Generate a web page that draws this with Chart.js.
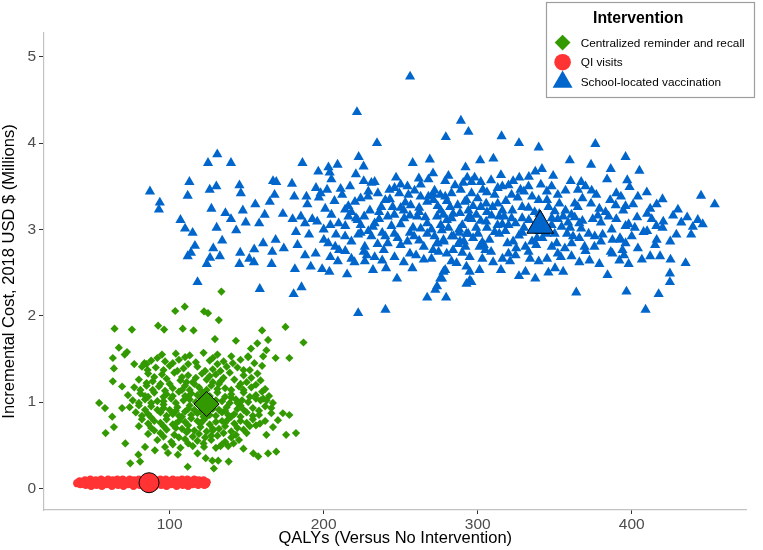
<!DOCTYPE html>
<html><head><meta charset="utf-8">
<script src="https://cdn.jsdelivr.net/npm/chart.js@4.4.1/dist/chart.umd.min.js"></script>
<style>html,body{margin:0;padding:0;background:#fff;}canvas{display:block;}</style>
</head><body>
<canvas id="c" width="763" height="550"></canvas>
<script>
const seriesNames = ['Centralized reminder and recall', 'QI visits', 'School-located vaccination'];
const seriesColors = ['#339900', '#FF3333', '#0066CC'];
const xTicks = [100, 200, 300, 400];
const yTicks = [0, 1, 2, 3, 4, 5];
const xTitle = 'QALYs (Versus No Intervention)';
const yTitle = 'Incremental Cost, 2018 USD $ (Millions)';
const legendTitle = 'Intervention';

// QI visits (QALYs, cost in millions)
const qiVisits = [[40,0.06],[41.5,0.08],[42,0.05],[43.5,0.07],[45,0.09],[45.5,0.04],[47,0.06],[48.5,0.10],[49,0.03],[50.5,0.07],[52,0.09],[52.5,0.04],[54,0.06],[55.5,0.10],[56,0.03],[57.5,0.08],[59,0.05],[60,0.10],[61,0.07],[62.5,0.03],[63,0.09],[64.5,0.06],[66,0.10],[66.5,0.04],[68,0.07],[69.5,0.10],[70,0.03],[71.5,0.08],[73,0.05],[74,0.10],[75,0.06],[76.5,0.03],[77,0.09],[78.5,0.07],[80,0.10],[80.5,0.04],[82,0.06],[83.5,0.10],[84,0.03],[85.5,0.08],[87,0.05],[88,0.10],[89,0.07],[90.5,0.03],[91,0.09],[92.5,0.06],[94,0.10],[94.5,0.04],[96,0.07],[97.5,0.10],[98,0.03],[99.5,0.08],[101,0.05],[102,0.10],[103,0.06],[104.5,0.03],[105,0.09],[106.5,0.07],[108,0.10],[108.5,0.04],[110,0.06],[111.5,0.10],[112,0.03],[113.5,0.08],[115,0.05],[116,0.10],[117,0.07],[118.5,0.04],[119,0.09],[120.5,0.06],[122,0.09],[122.5,0.04],[124,0.07],
[41,0.065],[44,0.055],[47.5,0.075],[51,0.06],[54.5,0.08],[58,0.065],[61.5,0.05],[65,0.075],[68.5,0.055],[72,0.07],[75.5,0.085],[79,0.06],[82.5,0.075],[86,0.055],[89.5,0.08],[93,0.065],[96.5,0.05],[100,0.075],[103.5,0.06],[107,0.08],[110.5,0.055],[114,0.07],[117.5,0.085],[121,0.06],[123.5,0.05]];

// Centralized reminder and recall
const reminderRecall = [[133.6,2.28],[103.6,2.055],[109.8,2.105],[122.3,2.05],[124.9,2.03],[131.9,1.95],[64.2,1.85],[75.5,1.84],[92.5,1.885],[96.4,1.84],[108.5,1.85],[115.5,1.83],[175.2,1.87],[160.0,1.83],[129.4,1.73],[143.0,1.71],[163.9,1.72],[156.9,1.68],[186.9,1.69],[152.8,1.62],[67.0,1.63],[72.3,1.58],[70.8,1.55],[63.1,1.51],[77.0,1.44],[63.8,1.39],[83.6,1.45],[85.7,1.37],[177.7,1.51],[168.8,1.51],[162.8,1.60],[160.7,1.53],[150.9,1.53],[63.1,1.24],[69.1,1.18],[72.9,1.08],[54.2,0.99],[58.0,0.93],[69.1,0.93],[62.7,0.83],[58.4,0.64],[63.8,0.71],[71.2,0.52],[74.4,0.29],[80.8,0.31],[79.7,0.39],[84.0,0.48],[90.4,0.44],[98.9,0.41],[105.3,0.39],[111.7,0.25],[123.4,0.35],[127.7,0.32],[128.7,0.23],[131.5,0.32],[138.3,0.31],[118.1,0.405],[122.3,0.48],[133.0,0.49],[141.5,0.52],[147.9,0.46],[154.3,0.405],[157.5,0.37],[163.9,0.405],[169.2,0.425],[175.6,0.62],[182.0,0.64],[177.7,0.85],[173.5,0.87],[166.0,0.93],[160.7,1.04],[164.5,1.07],[170.3,0.79],[167.1,0.71],[158.6,0.75],[162.8,0.62],
[95,1.55],[104,1.56],[113,1.54],[122,1.57],[131,1.55],[140,1.53],
[88,1.48],[97,1.47],[106,1.49],[117,1.46],[126,1.48],[135,1.47],[146,1.49],[155,1.45],
[82,1.41],[91,1.40],[100,1.42],[109,1.39],[118,1.41],[128,1.38],[137,1.41],[144,1.40],[152,1.37],
[86,1.33],[95,1.32],[103,1.34],[112,1.31],[121,1.33],[130,1.32],[139,1.34],[148,1.31],[157,1.33],
[80,1.26],[89,1.24],[98,1.27],[107,1.25],[115,1.23],[124,1.26],[133,1.24],[142,1.26],[150,1.23],[159,1.25],
[77,1.17],[85,1.19],[93,1.18],[102,1.16],[110,1.19],[119,1.17],[127,1.19],[136,1.16],[145,1.18],[153,1.17],[162,1.15],
[81,1.10],[90,1.11],[98,1.09],[106,1.12],[114,1.10],[123,1.08],[131,1.11],[140,1.09],[148,1.11],[156,1.08],
[76,1.02],[84,1.03],[92,1.01],[101,1.04],[109,1.02],[117,1.00],[126,1.03],[134,1.01],[143,1.03],[151,1.00],[159,1.02],[167,0.99],
[74,0.94],[80,0.96],[88,0.95],[96,0.97],[105,0.94],[113,0.96],[121,0.93],[129,0.96],[137,0.94],[146,0.96],[154,0.93],[162,0.95],
[78,0.88],[86,0.86],[94,0.88],[102,0.86],[110,0.89],[118,0.87],[126,0.85],[134,0.88],[142,0.86],[150,0.88],[158,0.85],[166,0.87],
[82,0.80],[90,0.78],[98,0.80],[106,0.78],[114,0.81],[122,0.79],[130,0.77],[138,0.80],[146,0.78],[154,0.80],[162,0.78],
[80,0.72],[88,0.70],[96,0.72],[104,0.70],[112,0.73],[120,0.71],[128,0.69],[136,0.72],[144,0.70],[152,0.72],
[86,0.63],[94,0.64],[103,0.62],[111,0.65],[119,0.63],[127,0.61],[135,0.64],[143,0.62],[150,0.64],
[92,0.56],[101,0.54],[110,0.57],[118,0.55],[127,0.56],[136,0.54],[145,0.56],
[97,0.48],[107,0.47],[115,0.49],[130,0.47],[138,0.49],
[100,1.21],[108,1.14],[116,1.21],[124,1.14],[132,1.21],[140,1.14],[96,1.06],[104,0.99],[112,1.06],[120,1.05],[128,0.99],[136,1.06],[144,0.99],[100,0.91],[108,0.83],[116,0.91],[124,0.83],[132,0.91],[140,0.83],[104,0.75],[112,0.67],[120,0.75],[128,0.67],[136,0.76],[148,0.91],[92,0.91],[88,0.82],[84,1.07],[152,1.06],[156,0.73],
[92,1.51],[110,1.52],[128,1.51],[151,1.52],[85,1.44],[102,1.45],[112,1.44],[131,1.44],[141,1.45],[160,1.42],[96,1.37],[105,1.36],[123,1.36],[133,1.36],[148,1.37],[90,1.29],[108,1.29],[117,1.28],[126,1.30],[135,1.28],[153,1.28],[85,1.22],[94,1.21],[111,1.23],[128,1.23],[146,1.21],[156,1.20],[81,1.14],[89,1.14],[97,1.13],[113,1.14],[121,1.12],[131,1.15],[148,1.14],[160,1.12],[86,1.06],[102,1.07],[110,1.07],[118,1.08],[126,1.07],[140,1.05],[156,1.04],[80,0.99],[88,0.99],[96,1.01],[113,1.03],[122,1.00],[130,1.02],[139,0.99],[147,1.02],[163,1.02],[84,0.91],[96,0.93],[104,0.90],[112,0.92],[120,0.89],[128,0.92],[136,0.90],[144,0.92],[158,0.90],[82,0.84],[98,0.84],[106,0.84],[114,0.85],[122,0.83],[130,0.84],[138,0.85],[146,0.83],[154,0.84],[86,0.75],[94,0.76],[102,0.74],[110,0.77],[118,0.78],[126,0.74],[134,0.78],[142,0.75],[150,0.76],[90,0.67],[98,0.68],[108,0.69],[116,0.67],[124,0.66],[132,0.69],[140,0.66],[148,0.68],[96,0.60],[106,0.59],[115,0.60],[123,0.59],[131,0.61],[140,0.59],[102,0.51],[112,0.52],[122,0.52],[134,0.51]];

// School-located vaccination
const schoolVaccination = [[130.9,3.87],[124.9,3.77],[139.8,3.77],[112.8,3.55],[87.2,3.44],[93.6,3.31],[93.0,3.23],[111.7,3.39],[126.0,3.46],[130.3,3.50],[127.1,3.24],[136.2,3.19],[139.8,3.12],[107.0,3.11],[110.0,3.01],[114.9,2.96],[130.5,3.02],[134.1,2.87],[116.4,2.81],[113.8,2.73],[111.7,2.69],[128.3,2.78],[126.2,2.67],[124.1,2.60],[132.6,2.69],[118.1,2.39],
[256.1,4.77],[221.6,4.36],[289.1,4.26],[279.3,4.07],[294.0,4.13],[234.6,4.00],[186.2,3.77],[222.7,3.84],[209.0,3.75],[225.9,3.73],[257.8,3.77],[268.9,3.81],[292.1,3.72],[196.5,3.67],[203.1,3.72],[203.9,3.66],[220.9,3.64],[271.0,3.65],[293.2,3.60],[145.3,3.51],[146.2,3.42],[167.1,3.56],[169.2,3.55],[179.4,3.53],[195.0,3.48],[202.2,3.46],[217.1,3.50],[231.0,3.54],[233.1,3.55],[242.7,3.46],[254.4,3.50],[261.8,3.59],[278.9,3.56],[285.3,3.51],[290.6,3.54],[296.0,3.55],[147.5,3.22],[155.6,3.29],[165.0,3.32],[168.1,3.40],[180.9,3.38],[188.8,3.38],[189.4,3.29],[196.9,3.37],[213.9,3.23],[220.3,3.32],[228.8,3.38],[235.2,3.42],[237.4,3.26],[244.8,3.26],[249.1,3.42],[256.5,3.28],[262.9,3.38],[267.2,3.32],[275.7,3.40],[282.1,3.26],[292.7,3.34],[143.2,2.99],[149.4,3.08],[158.1,3.07],[161.7,3.17],[173.5,3.18],[179.8,3.12],[185.2,3.15],[187.9,3.07],[192.6,3.12],[195.8,3.09],[204.3,3.05],[209.7,3.07],[216.1,3.15],[222.0,3.11],[226.3,3.15],[233.1,3.07],[241.6,3.15],[245.9,3.17],[252.3,3.13],[260.8,3.15],[267.2,3.07],[273.6,3.15],[280.0,3.11],[288.5,3.19],[294.9,3.15],[145.8,2.73],[151.7,2.66],[154.9,2.77],[160.7,2.84],[166.6,2.74],[168.8,2.88],[174.1,2.78],[182.0,2.97],[183.0,2.82],[187.9,2.70],[190.5,2.94],[194.8,2.72],[200.1,2.88],[204.3,2.68],[207.5,2.80],[213.9,2.92],[222.4,2.94],[226.7,2.80],[231.0,2.92],[233.1,2.68],[241.6,2.84],[245.9,2.95],[254.4,2.86],[258.7,2.92],[267.2,2.95],[273.6,2.84],[277.8,2.88],[283.1,2.92],[288.5,2.86],[293.8,2.95],[145.3,2.60],[154.7,2.62],[166.2,2.60],[181.3,2.54],[191.6,2.57],[199.0,2.54],[203.7,2.51],[209.2,2.63],[215.2,2.48],[226.7,2.63],[232.0,2.53],[240.5,2.55],[247.6,2.43],[257.6,2.55],[265.0,2.65],[278.9,2.53],[292.7,2.57],[294.9,2.41],[158.5,2.31],[180.5,2.25],[185.6,2.33],[267.2,2.21],[273.6,2.34],[279.5,2.21],[276.8,2.43],[222.4,2.03],[240.1,2.07],
[315.5,4.08],[326.8,4.00],[339.6,3.95],[376.4,3.99],[301.6,3.80],[310.2,3.82],[359.8,3.80],[373.6,3.75],[386.4,3.70],[396.0,3.84],[405.0,3.68],[303.3,3.46],[308.7,3.57],[315.1,3.63],[320.0,3.51],[327.8,3.46],[333.2,3.61],[337.4,3.67],[341.7,3.70],[344.9,3.44],[360.4,3.56],[367.2,3.55],[365.1,3.46],[397.1,3.57],[398.6,3.49],[409.8,3.43],[416.2,3.29],[445.0,3.39],[453.9,3.29],[271.4,3.34],[278.9,3.38],[291.6,3.32],[297.0,3.27],[305.5,3.30],[309.7,3.26],[318.3,3.33],[322.5,3.22],[328.9,3.26],[335.3,3.38],[339.6,3.34],[355.5,3.15],[360.9,3.17],[373.6,3.30],[379.0,3.24],[389.6,3.28],[394.5,3.22],[400.9,3.29],[403.5,3.14],[426.9,3.16],[432.2,3.08],[442.9,3.11],[446.1,3.06],[277.8,3.17],[283.1,3.13],[293.8,3.13],[299.1,3.17],[305.5,3.09],[312.9,3.05],[317.2,3.15],[324.6,3.07],[328.9,3.13],[333.2,3.11],[348.1,3.13],[354.5,3.03],[358.7,3.08],[367.2,3.01],[374.7,3.12],[381.1,2.94],[387.5,2.88],[392.8,2.88],[396.0,3.04],[407.7,2.97],[420.5,3.09],[429.0,2.94],[438.6,2.94],[439.7,3.03],[276.7,2.99],[284.2,2.92],[292.7,2.95],[300.2,2.95],[307.6,2.88],[314.0,2.95],[319.3,2.84],[326.8,2.93],[331.0,2.80],[335.3,2.86],[338.5,2.90],[344.9,2.95],[351.3,2.84],[356.6,2.78],[361.9,2.92],[369.4,2.80],[375.8,2.80],[386.4,2.74],[392.4,2.90],[416.2,2.88],[415.2,2.82],[274.6,2.74],[279.9,2.72],[287.4,2.83],[294.8,2.68],[301.2,2.80],[308.7,2.74],[316.1,2.66],[324.6,2.70],[339.6,2.63],[348.1,2.80],[360.9,2.69],[372.6,2.64],[379.0,2.60],[387.5,2.72],[406.6,2.65],[412.0,2.69],[418.4,2.69],[425.2,2.65],[435.0,2.61],[277.8,2.51],[286.3,2.61],[294.8,2.51],[301.2,2.53],[315.1,2.53],[326.8,2.46],[331.0,2.51],[337.4,2.43],[345.9,2.50],[350.2,2.55],[355.5,2.51],[384.3,2.47],[424.8,2.49],[424.8,2.39],[275.7,2.43],[292.7,2.37],[295.9,2.39],[272.5,2.30],[364.0,2.27],[396.6,2.28],[417.5,2.25],[409.0,2.07],
[212,3.40],[218,3.20],[224,3.05],[229,2.98],[236,3.20],[240,3.34],[244,3.04],[248,2.90],[252,3.22],[255,3.40],[258,3.02],[262,3.25],[265,2.80],[270,3.00],[272,3.45],[276,3.22],[281,3.02],[284,2.76],[287,3.28],[290,3.05],[296,3.42],[299,3.02],[303,2.85],[306,3.20],[311,3.40],[314,3.15],[318,2.98],[322,3.40],[325,2.78],[330,3.02],[333,3.50],[337,3.20],[343,3.03],[346,3.26],[350,2.95],[352,3.40],[357,3.22],[363,3.30],[368,3.10],[372,2.95],[214,2.75],[220,2.62],[228,2.70],[238,2.96],[246,2.68],[250,3.52],[260,2.70],[268,3.58],[278,2.86],[283,3.42],[292,2.80],[298,3.60],[302,3.10],[310,2.62],[316,3.50],[320,3.05],[327,3.60],[334,2.66],[340,2.98],[348,3.50],[354,2.68],[360,3.02],[366,2.90],[374,3.45],[380,3.08],[385,3.15],[390,3.42],[395,2.70],[402,3.02],[410,3.18],[416,3.04],
[205,3.58],[226,3.56],[247,3.60],[263,3.52],[281,3.62],[302,3.55],[323,3.56],[349,3.62],[370,3.50],[384,3.58],
[198,3.42],[211,3.47],[229,3.44],[246,3.48],[259,3.45],[271,3.41],[289,3.46],[306,3.43],[313,3.48],[330,3.44],[341,3.52],[357,3.45],[377,3.40],[393,3.38],
[207,3.33],[224,3.36],[243,3.35],[253,3.31],[268,3.38],[280,3.33],[300,3.36],[313,3.30],[326,3.37],[345,3.34],[353,3.30],[368,3.36],[386,3.34],[404,3.38],[420,3.35],
[201,3.24],[216,3.27],[230,3.22],[250,3.25],[262,3.20],[274,3.27],[294,3.22],[302,3.26],[316,3.22],[333,3.25],[350,3.21],[365,3.26],[383,3.20],[396,3.27],[412,3.24],[430,3.23],
[205,3.17],[221,3.13],[236,3.12],[256,3.16],[266,3.14],[284,3.18],[296,3.12],[309,3.16],[322,3.13],[340,3.18],[352,3.12],[363,3.14],[378,3.16],[390,3.12],[413,3.12],[436,3.14],
[200,3.00],[214,3.04],[232,3.03],[250,3.06],[263,3.01],[276,3.05],[288,3.00],[306,3.02],[316,3.06],[337,3.02],[348,3.05],[366,3.07],[387,3.00],[398,3.06],[420,3.02],
[208,2.94],[224,2.96],[240,2.92],[256,2.96],[272,2.92],[288,2.96],[297,2.90],[311,2.97],[329,2.96],[342,2.90],[358,2.95],[376,2.92],[400,2.92],[410,2.98],
[203,2.84],[218,2.86],[235,2.83],[250,2.82],[262,2.87],[274,2.84],[291,2.86],[304,2.82],[323,2.86],[338,2.82],[361,2.84],[380,2.86],[396,2.84],[425,2.86],
[210,2.76],[226,2.74],[239,2.76],[256,2.72],[271,2.76],[290,2.73],[305,2.76],[320,2.72],[333,2.74],[352,2.72],[370,2.75],[394,2.76],[404,2.78],
[218,2.66],[238,2.64],[252,2.62],[270,2.66],[283,2.63],[303,2.66],[321,2.63],[345,2.66],[366,2.62],[392,2.64],[398,2.60]];

// Mean (summary) points
const meanReminder = [124.0, 0.977];
const meanQI = [86.6, 0.065];
const meanSchool = [340.6, 3.045];

const FONT = '"Liberation Sans", Arial, Helvetica, sans-serif';
const toXY = arr => arr.map(p => ({x: p[0], y: p[1]}));

const legendPlugin = {
  id: 'ggLegend',
  afterDraw(chart) {
    const ctx = chart.ctx;
    ctx.save();
    ctx.fillStyle = '#ffffff';
    ctx.fillRect(546.5, 2.5, 208, 95);
    ctx.strokeStyle = '#9e9e9e';
    ctx.lineWidth = 1.2;
    ctx.strokeRect(546.5, 2.5, 208, 95);
    ctx.fillStyle = '#000';
    ctx.textBaseline = 'alphabetic';
    ctx.textAlign = 'left';
    ctx.font = 'bold 15.8px ' + FONT;
    ctx.fillText(legendTitle, 593, 23.3);
    const kx = 562.6;
    ctx.fillStyle = seriesColors[0];
    ctx.beginPath();
    ctx.moveTo(kx - 7.9, 42.6); ctx.lineTo(kx, 34.7); ctx.lineTo(kx + 7.9, 42.6); ctx.lineTo(kx, 50.5);
    ctx.closePath(); ctx.fill();
    ctx.fillStyle = seriesColors[1];
    ctx.beginPath(); ctx.arc(kx, 62.2, 8.3, 0, Math.PI * 2); ctx.fill();
    ctx.fillStyle = seriesColors[2];
    const r = 11.5, cy = 82.0;
    ctx.beginPath();
    ctx.moveTo(kx, cy - r);
    ctx.lineTo(kx + r * Math.sin(Math.PI / 3), cy + r / 2);
    ctx.lineTo(kx - r * Math.sin(Math.PI / 3), cy + r / 2);
    ctx.closePath(); ctx.fill();
    ctx.fillStyle = '#000';
    ctx.font = '11.8px ' + FONT;
    ctx.fillText(seriesNames[0], 580.7, 46.7);
    ctx.fillText(seriesNames[1], 580.7, 66.2);
    ctx.fillText(seriesNames[2], 580.7, 85.6);
    ctx.restore();
  }
};

new Chart(document.getElementById('c'), {
  type: 'scatter',
  data: {
    datasets: [
      {label: seriesNames[1], order: 3, data: toXY(qiVisits), pointStyle: 'circle', pointRadius: 4.2, backgroundColor: seriesColors[1], borderWidth: 0},
      {label: seriesNames[0], order: 2, data: toXY(reminderRecall), pointStyle: 'rectRot', pointRadius: 4.1, backgroundColor: seriesColors[0], borderWidth: 0},
      {label: seriesNames[2], order: 1, data: toXY(schoolVaccination), pointStyle: 'triangle', pointRadius: 5.9, backgroundColor: seriesColors[2], borderWidth: 0},
      {label: 'mean QI', order: 0, data: toXY([meanQI]), pointStyle: 'circle', pointRadius: 10, backgroundColor: seriesColors[1], borderColor: '#000', borderWidth: 1},
      {label: 'mean reminder', order: 0, data: toXY([meanReminder]), pointStyle: 'rectRot', pointRadius: 12.5, backgroundColor: seriesColors[0], borderColor: '#000', borderWidth: 1},
      {label: 'mean school', order: 0, data: toXY([meanSchool]), pointStyle: 'triangle', pointRadius: 15.4, backgroundColor: seriesColors[2], borderColor: '#000', borderWidth: 1}
    ]
  },
  options: {
    responsive: false,
    devicePixelRatio: 1,
    animation: false,
    events: [],
    layout: {padding: {top: 33, right: 5, left: 0, bottom: 0}},
    plugins: {legend: {display: false}, tooltip: {enabled: false}},
    scales: {
      x: {
        type: 'linear', min: 18.4, max: 474.6,
        afterBuildTicks: s => { s.ticks = xTicks.map(v => ({value: v})); },
        afterFit: s => { s.height = 40; },
        grid: {display: true, drawOnChartArea: false, drawTicks: true, tickLength: 4, color: '#333', tickColor: '#333', tickWidth: 1},
        border: {display: true, color: '#c2c2c2', width: 1.2},
        ticks: {color: '#4d4d4d', font: {size: 15.5, family: FONT}, padding: 1, maxRotation: 0, autoSkip: false},
        title: {display: true, text: xTitle, color: '#000', font: {size: 16.5, family: FONT}, padding: {top: 0, bottom: 1.8}}
      },
      y: {
        type: 'linear', min: -0.251, max: 5.276,
        afterBuildTicks: s => { s.ticks = yTicks.map(v => ({value: v})); },
        afterFit: s => { s.width = 44; },
        grid: {display: true, drawOnChartArea: false, drawTicks: true, tickLength: 5, color: '#333', tickColor: '#333', tickWidth: 1},
        border: {display: true, color: '#c2c2c2', width: 1.2},
        ticks: {color: '#4d4d4d', font: {size: 15.5, family: FONT}, padding: 3},
        title: {display: true, text: yTitle, color: '#000', font: {size: 16.5, family: FONT}, padding: {top: 0, bottom: 0}}
      }
    }
  },
  plugins: [legendPlugin]
});
</script>
</body></html>
